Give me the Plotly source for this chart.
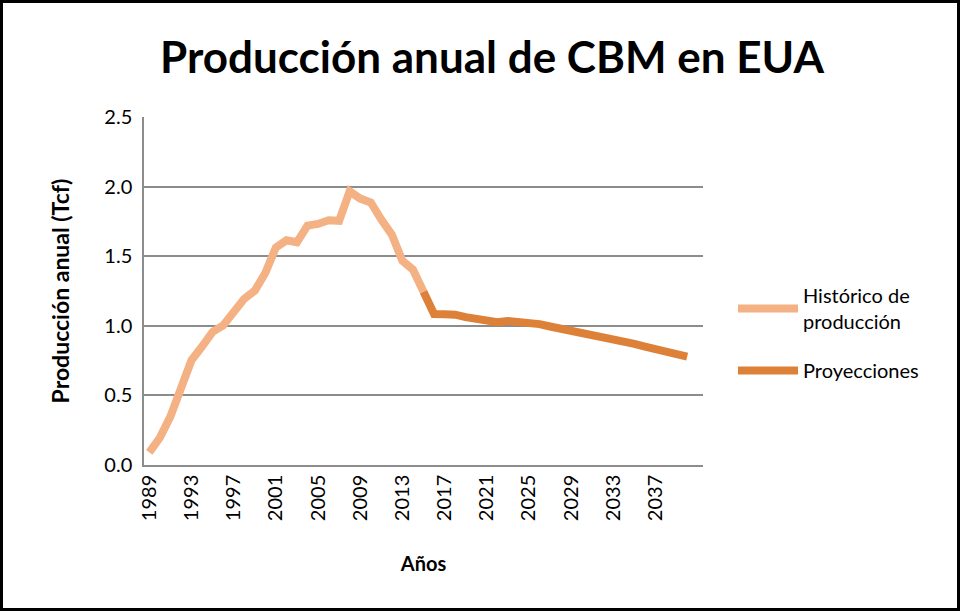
import plotly.graph_objects as go

years_hist = list(range(1989, 2016))
prod_hist = [0.091, 0.196, 0.348, 0.539, 0.752, 0.851, 0.956, 1.003, 1.090, 1.194,
             1.252, 1.379, 1.562, 1.614, 1.600, 1.720, 1.732, 1.758, 1.754, 1.966,
             1.914, 1.886, 1.763, 1.655, 1.466, 1.404, 1.245]

years_proj = list(range(2015, 2041))
prod_proj = [1.245, 1.085, 1.083, 1.080, 1.062, 1.045, 1.030, 1.025, 1.035, 1.032,
             1.028, 1.012, 0.995, 0.980, 0.968, 0.955, 0.938, 0.925, 0.910, 0.890,
             0.870, 0.850, 0.830, 0.812, 0.795, 0.778]

tick_years = list(range(1989, 2038, 4))
tick_labels = [str(y) for y in tick_years]

FONT = "Lato, 'Open Sans', sans-serif"

fig = go.Figure()
fig.add_trace(go.Scatter(x=years_hist, y=prod_hist, mode="lines",
                         name="Histórico de<br>producción", legendgroup="hist",
                         line=dict(color="#F4B183", width=8)))
fig.add_trace(go.Scatter(x=years_proj, y=prod_proj, mode="lines",
                         name="Proyecciones", legendgroup="proj",
                         line=dict(color="#DD8139", width=8)))

L, R, T, B = 144, 257, 117, 146
W, H = 960, 611
pw, ph = W - L - R, H - T - B

def px(x):
    return (x - L) / pw

def py(y):
    return (H - B - y) / ph

fig.update_layout(
    width=W, height=H,
    margin=dict(l=L, r=R, t=T, b=B, pad=0),
    paper_bgcolor="white", plot_bgcolor="white",
    font=dict(family=FONT, size=20, color="black"),
    title=dict(text="<b>Producción anual de CBM en EUA</b>",
               font=dict(family=FONT, size=44, color="black", weight="bold"),
               x=492 / W, xanchor="center", y=1 - 58 / H, yanchor="middle"),
    xaxis=dict(range=[1988.5, 2041.5], tickmode="array",
               tickvals=tick_years, ticktext=tick_labels, tickangle=-90,
               showgrid=False, zeroline=False, showline=True,
               linecolor="#8C8C8C", linewidth=1.5, ticks="", ticklen=0,
               tickfont=dict(family=FONT, size=20),
               title=dict(text="<b>Años</b>",
                          font=dict(family=FONT, size=20, weight="bold"),
                          standoff=37)),
    yaxis=dict(range=[0, 2.5], dtick=0.5, tickformat=".1f",
               showgrid=True, gridcolor="#8C8C8C", gridwidth=1.5,
               zeroline=False, showline=True, linecolor="#8C8C8C", linewidth=1.5,
               ticks="", ticklen=0, ticklabelstandoff=6,
               tickfont=dict(family=FONT, size=20),
               title=dict(text="<b>Producción anual (Tcf)</b>",
                          font=dict(family=FONT, size=23, weight="bold"),
                          standoff=28)),
    legend=dict(x=px(733), xanchor="left", y=py(276), yanchor="top",
                font=dict(family=FONT, size=20), bgcolor="rgba(0,0,0,0)",
                itemwidth=60, tracegroupgap=20),
    shapes=[dict(type="rect", xref="paper", yref="paper",
                 x0=px(1.5), x1=px(958.5), y0=py(609.5), y1=py(1.5),
                 line=dict(color="black", width=3), layer="above")],
)

fig.write_html("out.html", config={"displayModeBar": False},
               post_script="document.body.style.margin='0';")
